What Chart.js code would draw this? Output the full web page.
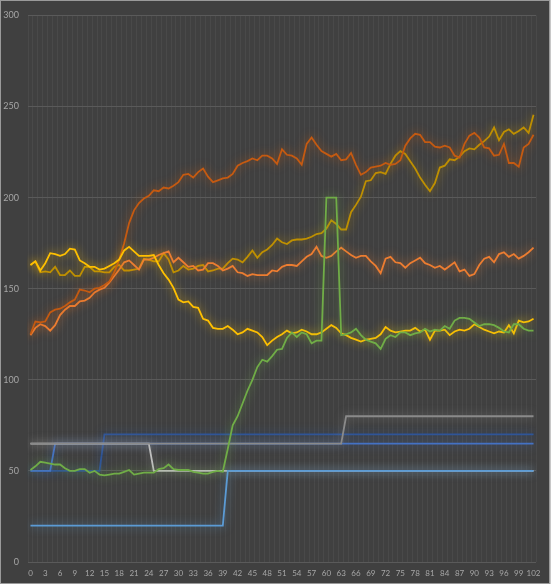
<!DOCTYPE html>
<html><head><meta charset="utf-8">
<script src="https://cdn.jsdelivr.net/npm/chart.js@4.4.1/dist/chart.umd.min.js"></script>
<style>
html,body{margin:0;padding:0;background:#c8c8c8;}
#wrap{position:absolute;left:0;top:0;width:548px;height:582px;border:1px solid #9a9a9a;background:#404040;}
canvas{display:block;}
</style></head><body>
<div id="wrap"><canvas id="c" width="548" height="582"></canvas></div>
<script>
const categories = [0,1,2,3,4,5,6,7,8,9,10,11,12,13,14,15,16,17,18,19,20,21,22,23,24,25,26,27,28,29,30,31,32,33,34,35,36,37,38,39,40,41,42,43,44,45,46,47,48,49,50,51,52,53,54,55,56,57,58,59,60,61,62,63,64,65,66,67,68,69,70,71,72,73,74,75,76,77,78,79,80,81,82,83,84,85,86,87,88,89,90,91,92,93,94,95,96,97,98,99,100,101,102];

const yellowSeries = [163,165,160,164,169.5,169,168,169,172,171.5,165.5,164,162,162,160.5,161,162.5,164,166,171,173,170.5,168,168,168,168.5,163,158.5,155,150.5,144,142.5,143,140,139.5,133.5,132.5,128.5,128,128,129.5,127.5,125,126,128,127,126,123.5,119,121.5,123.5,125,127,125.5,126,127.5,126.5,125,125,126,128,130,128.5,125.5,124.5,123,122,121,122,122.5,123,125,129,127,126,126.5,127,127,128.5,126.5,127.5,122,127,127,127.5,124.5,126.5,127.5,127,128,130.5,129,127.5,126.5,125.5,126.5,126,130,125.5,132.5,131.5,132,133.5];

const darkOrangeSeries = [125,132,131.5,132,137,138.5,139,140.5,142.5,144,149.5,149,148,150,150.5,152,154,159,166,175,186,193,197,199.5,201,204,203.5,205.5,205,206.5,208.5,212.5,213,211,214,216,211.5,208.5,209.5,210.5,211,213,217.5,219,220,221.5,220.5,223,223,221.5,218.5,226.5,223.5,223,221.5,218,229.5,233,229,225.5,224,222.5,224,220.5,221,224.5,218,212.5,214,216.5,217,217.5,219,218,218.5,220.5,228.5,232.5,235,234.5,230.5,230.5,228,227.5,228.5,227.5,223,222,229.5,234,235.5,233,227.5,227,223,223.5,229.5,219,219,217,227.5,229.5,234.5];

const lightOrangeSeries = [124.5,128.5,130.5,129.5,127,130,135.5,138.5,140.5,140.5,143,143.5,145,148,149.5,150.5,153.5,157,160.5,164.5,165.5,163,160.5,166,166,167,168.5,169.5,170.5,164.5,167,164.5,162,162.5,160,160.5,164,164,162.5,160,161,162.5,159,158.5,157,158,157.5,157.5,157.5,160,159.5,162,163,163,162.5,165,167.5,169,173,168,167,168,170.5,172.5,170.5,168.5,167,168,168,165,162.5,158.5,166.5,167.5,164.5,164,161.5,164,165.5,167,164,163,161.5,162.5,160.5,162.5,164.5,159.5,160.5,157,158,163,166.5,167.5,164.5,169,170,167.5,169,166.5,168,170,172.5];

const goldSeries = [163,165,159,159.5,159,162,157.5,157.5,160,157,157,162,162,159.5,159.5,159,159,162,163,160,160,160.5,161,166.5,166,165,165,169.5,166,159,160,162.5,160.5,161,162.5,163,159.5,160,161,161,164,166.5,166,164.5,167.5,171,167,170,171.5,174,177.5,175.5,174.5,176.5,177,177,177.5,178.5,180,180.5,183,187.5,185.5,182.5,182.5,192,196,200.5,209,209.5,213.5,214,213,218.5,223,225.5,224,220,216,211,207,203.5,208,216.5,217.5,221,220.5,222.5,225.5,227,226.5,229,231,233.5,238.5,231.5,236,237.5,235,236.5,238.5,235.5,245.5];

const greenSeries = [50.5,52.5,55,54.5,54,53.5,53.5,51.5,50,50,51,51,49,50,48,47.5,48,48.5,48.5,49.5,50.5,48,48.5,49,49,49,51,51.5,53.5,51,50.5,50.5,50.5,49.5,49,48.5,48.5,49.5,50,49.5,62,75,80,87,94,100,107,111,110,113,116.5,117,123,126,123.5,126,125,120,121.5,121.5,200,200,200,124.5,125,126,128,124.5,122,121,120,117,122.5,124.5,123.5,126,126,124.5,125.5,126,128,126.5,127.5,127,129.5,128,132.5,134,134,133.5,131.5,129.5,130.5,130.5,130,128.5,126.5,126,130.5,130.5,128,127,127];

const lightBlueSeries = [20,20,20,20,20,20,20,20,20,20,20,20,20,20,20,20,20,20,20,20,20,20,20,20,20,20,20,20,20,20,20,20,20,20,20,20,20,20,20,20,50,50,50,50,50,50,50,50,50,50,50,50,50,50,50,50,50,50,50,50,50,50,50,50,50,50,50,50,50,50,50,50,50,50,50,50,50,50,50,50,50,50,50,50,50,50,50,50,50,50,50,50,50,50,50,50,50,50,50,50,50,50,50];

const navySeries = [50,50,50,50,50,50,50,50,50,50,50,50,50,50,50,70,70,70,70,70,70,70,70,70,70,70,70,70,70,70,70,70,70,70,70,70,70,70,70,70,70,70,70,70,70,70,70,70,70,70,70,70,70,70,70,70,70,70,70,70,70,70,70,70,70,70,70,70,70,70,70,70,70,70,70,70,70,70,70,70,70,70,70,70,70,70,70,70,70,70,70,70,70,70,70,70,70,70,70,70,70,70,70];

const blueSeries = [50,50,50,50,50,65,65,65,65,65,65,65,65,65,65,65,65,65,65,65,65,65,65,65,65,65,65,65,65,65,65,65,65,65,65,65,65,65,65,65,65,65,65,65,65,65,65,65,65,65,65,65,65,65,65,65,65,65,65,65,65,65,65,65,65,65,65,65,65,65,65,65,65,65,65,65,65,65,65,65,65,65,65,65,65,65,65,65,65,65,65,65,65,65,65,65,65,65,65,65,65,65,65];

const graySeries = [65,65,65,65,65,65,65,65,65,65,65,65,65,65,65,65,65,65,65,65,65,65,65,65,65,65,65,65,65,65,65,65,65,65,65,65,65,65,65,65,65,65,65,65,65,65,65,65,65,65,65,65,65,65,65,65,65,65,65,65,65,65,65,65,80,80,80,80,80,80,80,80,80,80,80,80,80,80,80,80,80,80,80,80,80,80,80,80,80,80,80,80,80,80,80,80,80,80,80,80,80,80,80];

const lightGraySeries = [65,65,65,65,65,65,65,65,65,65,65,65,65,65,65,65,65,65,65,65,65,65,65,65,65,50,50,50,50,50,50,50,50,50,50,50,50,50,50,50,50,50,50,50,50,50,50,50,50,50,50,50,50,50,50,50,50,50,50,50,50,50,50,50,50,50,50,50,50,50,50,50,50,50,50,50,50,50,50,50,50,50,50,50,50,50,50,50,50,50,50,50,50,50,50,50,50,50,50,50,50,50,50];

const yTicks = [0,50,100,150,200,250,300];

function ds(data, color, glow) {
  return {data, borderColor: color, glowColor: glow, borderWidth: 1.8, pointRadius: 0, tension: 0, fill: false};
}

const glowPlugin = {
  id: 'glow',
  beforeDatasetDraw(chart, args) {
    const d = chart.data.datasets[args.index];
    const ctx = chart.ctx;
    ctx.save();
    ctx.shadowColor = d.glowColor;
    ctx.shadowBlur = 10;
    ctx.shadowOffsetX = 0;
    ctx.shadowOffsetY = 0;
  },
  afterDatasetDraw(chart) { chart.ctx.restore(); }
};

new Chart(document.getElementById('c'), {
  type: 'line',
  data: {
    labels: categories,
    datasets: [
      ds(greenSeries, '#70ad47', 'rgba(112,173,71,0.8)'),
      ds(yellowSeries, '#ffc000', 'rgba(255,192,0,0.8)'),
      ds(darkOrangeSeries, '#c55a11', 'rgba(197,90,17,0.8)'),
      ds(lightOrangeSeries, '#ed7d31', 'rgba(237,125,49,0.8)'),
      ds(goldSeries, '#bf9000', 'rgba(191,144,0,0.8)'),
      ds(lightBlueSeries, '#5b9bd5', 'rgba(91,155,213,0.8)'),
      ds(graySeries, '#8a8a8a', 'rgba(150,150,150,0.65)'),
      ds(lightGraySeries, '#bfbfbf', 'rgba(191,191,191,0.6)'),
      ds(blueSeries, '#4472c4', 'rgba(68,114,196,0.8)'),
      ds(navySeries, '#2f5597', 'rgba(47,85,151,0.85)')
    ]
  },
  options: {
    responsive: false,
    animation: false,
    devicePixelRatio: 1,
    layout: {padding: {top: 9, right: 13, left: 0, bottom: 0}},
    plugins: {legend: {display: false}, tooltip: {enabled: false}},
    scales: {
      x: {
        offset: true,
        grid: {offset: true, color: 'rgba(255,255,255,0.05)', drawTicks: false},
        border: {display: false},
        ticks: {
          autoSkip: false, maxRotation: 0, minRotation: 0, padding: 7,
          color: '#a6a6a6', font: {family: 'Lato', size: 8},
          callback: function(v, i) { return i % 3 === 0 ? String(categories[i]) : ''; }
        },
        afterFit(s) { s.height = 21; }
      },
      y: {
        min: yTicks[0], max: yTicks[yTicks.length - 1],
        afterBuildTicks(s) { s.ticks = yTicks.map(v => ({value: v})); },
        grid: {color: '#5a5a5a', drawTicks: false},
        border: {display: false},
        ticks: {padding: 9, color: '#a6a6a6', font: {family: 'Lato', size: 9}},
        afterFit(s) { s.width = 27; }
      }
    }
  },
  plugins: [glowPlugin]
});
</script>
</body></html>
